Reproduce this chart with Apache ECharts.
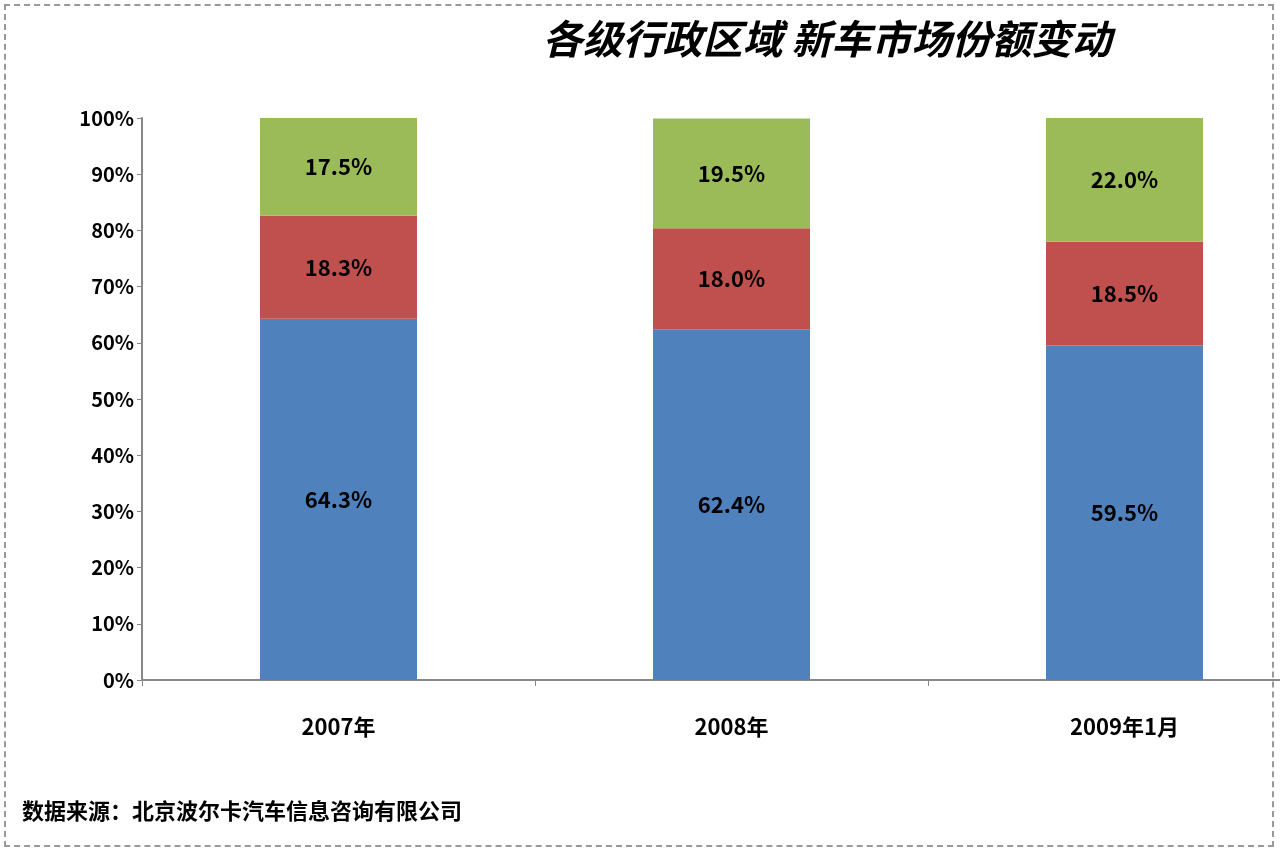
<!DOCTYPE html>
<html><head><meta charset="utf-8">
<script src="https://cdn.jsdelivr.net/npm/echarts@6/dist/echarts.min.js"></script>
<style>
body{margin:0;background:#fff;}
#chart{width:1280px;height:853px;}
#frame{position:absolute;left:4px;top:4px;width:1270px;height:843px;border:2px dashed #999;box-sizing:border-box;pointer-events:none;}
</style></head>
<body>
<div id="chart"></div><div id="frame"></div>
<script>
var categories = ['2007年', '2008年', '2009年1月'];
var blueVals = [64.3, 62.4, 59.5];
var redVals = [18.3, 18.0, 18.5];
var greenVals = [17.5, 19.5, 22.0];

var chart = echarts.init(document.getElementById('chart'));
var font = '"Noto Sans CJK SC", "DejaVu Sans", sans-serif';
var lbl = {
    show: true, color: '#000', fontWeight: 'bold', fontSize: 22, fontFamily: font,
    formatter: function (p) { return p.value.toFixed(1) + '%'; }
};
function mk(name, data, color) {
    return { name: name, type: 'bar', stack: 's', data: data, barWidth: 157,
        itemStyle: { color: color }, label: lbl };
}
chart.setOption({
    animation: false,
    title: {
        text: '各级行政区域 新车市场份额变动', left: 822, top: 14, textAlign: 'center',
        textStyle: { fontSize: 40, fontStyle: 'italic', fontWeight: 'bold', color: '#000', fontFamily: font }
    },
    graphic: [{
        type: 'text', left: 22, top: 800,
        style: { text: '数据来源：北京波尔卡汽车信息咨询有限公司', fill: '#000', font: 'bold 22px ' + font }
    }],
    grid: { left: 142, width: 1179, top: 118, bottom: 173, outerBoundsMode: 'none' },
    xAxis: {
        type: 'category', data: categories,
        axisLine: { lineStyle: { color: '#888', width: 2 } },
        axisTick: { show: true, length: 6, lineStyle: { color: '#888' } },
        axisLabel: { color: '#000', fontWeight: 'bold', fontSize: 22, margin: 36, fontFamily: font }
    },
    yAxis: {
        type: 'value', min: 0, max: 100, interval: 10,
        splitLine: { show: false },
        axisLine: { show: true, lineStyle: { color: '#888', width: 2 } },
        axisTick: { show: true, lineStyle: { color: '#888' } },
        axisLabel: { color: '#000', fontWeight: 'bold', fontSize: 20, formatter: '{value}%', fontFamily: font }
    },
    series: [
        mk('blue', blueVals, '#4f81bd'),
        mk('red', redVals, '#c0504d'),
        mk('green', greenVals, '#9bbb59')
    ]
});
</script>
</body></html>
